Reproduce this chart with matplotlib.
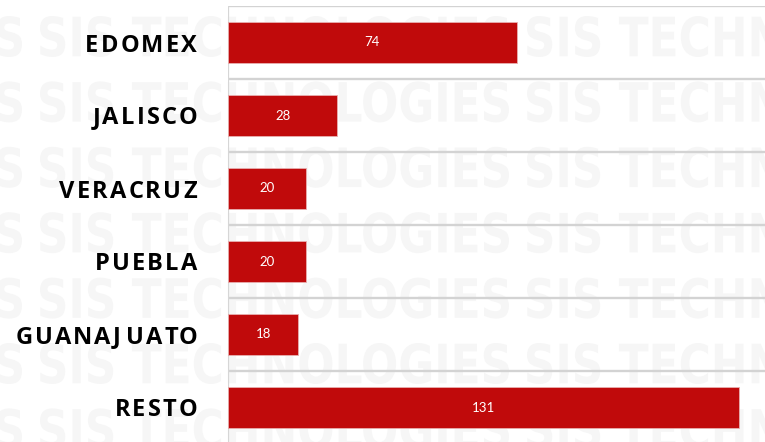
import matplotlib.pyplot as plt
from matplotlib.textpath import TextPath
from matplotlib.patches import PathPatch
from matplotlib.font_manager import FontProperties
from matplotlib.transforms import Affine2D, blended_transform_factory

# data
estados = ['EDOMEX', 'JALISCO', 'VERACRUZ', 'PUEBLA', 'GUANAJUATO', 'RESTO']
valores = [74, 28, 20, 20, 18, 131]

W, H = 765, 442
fig = plt.figure(figsize=(W / 100, H / 100), dpi=100)
fig.patch.set_facecolor('white')

# watermark "SIS TECHNOLOGIES" tiled behind the chart
wm = TextPath((0, 0), 'SIS TECHNOLOGIES', size=1,
              prop=FontProperties(family='DejaVu Sans', weight='bold'))
ext = wm.get_extents()
sx = 469 / ext.width
sy = 41 / ext.height
for row in range(7):
    y_bottom = 57 + 65.4 * row          # pixels from top
    for col in range(-1, 2):
        x_left = 40 + 487 * col
        tr = (Affine2D().translate(-ext.x0, -ext.y0).scale(sx / W, sy / H)
              .translate(x_left / W, 1 - y_bottom / H) + fig.transFigure)
        fig.patches.append(PathPatch(wm, transform=tr, facecolor='#f6f6f6',
                                     edgecolor='none', zorder=-5))

row_h = 73
ax = fig.add_axes([228 / W, 0, (W - 228) / W, (H - 6) / H])
ax.set_facecolor('none')
pos = list(range(len(estados)))
bars = ax.barh(pos, valores, height=0.55, color='#c00a0b',
               edgecolor='#e8b0b0', linewidth=0.6, zorder=3)
ax.set_ylim(-0.5 + (H - 6) / row_h, -0.5)
ax.set_xlim(0, (W - 228) / 3.9)

for b, v in zip(bars, valores):
    ax.text(b.get_width() / 2, b.get_y() + b.get_height() / 2, str(v),
            ha='center', va='center', color='white', fontsize=9.5,
            family='Lato', zorder=4)

for k in range(len(estados)):
    ax.axhline(k - 0.5, color='#d3d3d3', lw=1.7, zorder=2)
ax.axvline(0, color='#d6d6d6', lw=1.6, zorder=2)

ax.set_yticks([])
ax.set_xticks([])
for s in ax.spines.values():
    s.set_visible(False)

# category labels with letter spacing, right edge at x=197 px
prop = FontProperties(family='Open Sans', weight='bold', size=17)
renderer = fig.canvas.get_renderer()
spacing = 2.2  # px between letters
right_px = 197
trans = blended_transform_factory(fig.transFigure, ax.transData)


def text_w(s):
    if not s:
        return 0.0
    return renderer.get_text_width_height_descent(s, prop, ismath=False)[0]


for p, name in zip(pos, estados):
    total = text_w(name) + spacing * (len(name) - 1)
    x0 = right_px - total
    for i, ch in enumerate(name):
        x = x0 + text_w(name[:i]) + spacing * i
        ax.text(x / W, p, ch, transform=trans, fontproperties=prop,
                ha='left', va='center_baseline', color='black')

fig.savefig('out.png', dpi=100)
